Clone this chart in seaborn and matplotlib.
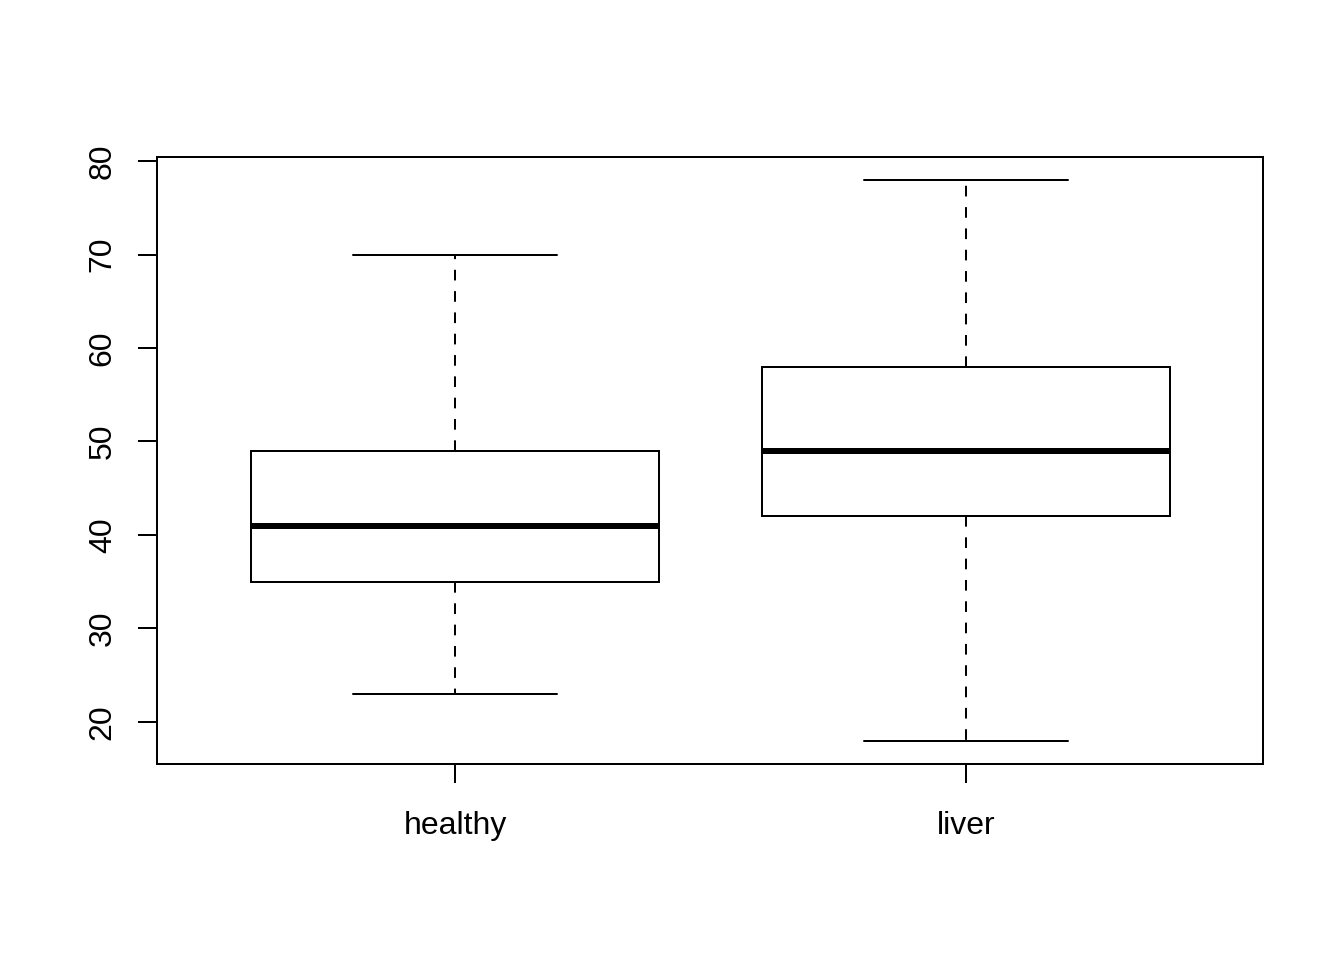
import pandas as pd
import numpy as np
import matplotlib
matplotlib.use("Agg")
import matplotlib.pyplot as plt
import seaborn as sns

# five-number summaries (min, Q1, median, Q3, max)
healthy = [23, 35, 41, 49, 70]
liver = [18, 42, 49, 58, 78]
groups = ["healthy", "liver"]
y_ticks = [20, 30, 40, 50, 60, 70, 80]

df = pd.DataFrame({
    "group": ["healthy"] * len(healthy) + ["liver"] * len(liver),
    "value": healthy + liver,
})

sns.set_style("ticks")
plt.rcParams["font.family"] = ["Liberation Sans", "DejaVu Sans"]
plt.rcParams["font.size"] = 12

fig, ax = plt.subplots(figsize=(7, 5), dpi=192)
fig.subplots_adjust(left=157 / 1344, right=1263 / 1344, top=1 - 157 / 960, bottom=1 - 764 / 960)

sns.boxplot(data=df, x="group", y="value", order=groups, ax=ax,
            color="white", linecolor="black", linewidth=0.75, width=0.8,
            whis=(0, 100), showfliers=False,
            boxprops={"facecolor": "white", "edgecolor": "black"},
            medianprops={"linewidth": 2.25, "color": "black", "solid_capstyle": "butt"},
            whiskerprops={"linestyle": (0, (5.33, 5.33)), "color": "black"},
            capprops={"color": "black"})

ax.set_xlim(-0.583, 1.581)
ax.set_ylim(15.5, 80.43)
ax.set_yticks(y_ticks)
ax.set_xlabel("")
ax.set_ylabel("")
for s in ax.spines.values():
    s.set_visible(True)
    s.set_linewidth(0.75)
    s.set_color("black")
ax.tick_params(axis="both", length=7.2, width=0.75, color="black",
               labelcolor="black", labelsize=12)
ax.tick_params(axis="y", pad=7.5)
ax.tick_params(axis="x", pad=10.5)
plt.setp(ax.get_yticklabels(), rotation=90, va="center")

fig.savefig("out.png", dpi=192, facecolor="white")
